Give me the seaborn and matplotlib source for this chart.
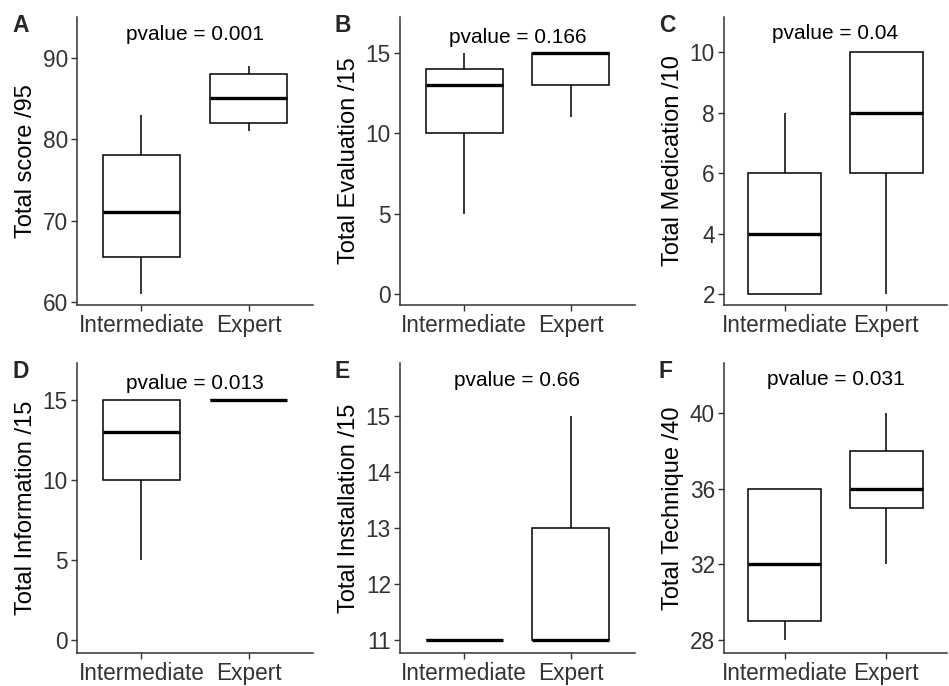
import seaborn as sns
import matplotlib.pyplot as plt
import pandas as pd

sns.set_style("ticks")
plt.rcParams['font.family'] = ['Liberation Sans', 'DejaVu Sans']

groups = ["Intermediate", "Expert"]

# five values per group (min, q1, median, q3, max)
score_int = [61, 65.5, 71, 78, 83]
score_exp = [81, 82, 85, 88, 89]
eval_int = [5, 10, 13, 14, 15]
eval_exp = [11, 13, 15, 15, 15]
med_int = [2, 2, 4, 6, 8]
med_exp = [2, 6, 8, 10, 10]
info_int = [5, 10, 13, 15, 15]
info_exp = [15, 15, 15, 15, 15]
inst_int = [11, 11, 11, 11, 11]
inst_exp = [11, 11, 11, 13, 15]
tech_int = [28, 29, 32, 36, 36]
tech_exp = [32, 35, 36, 38, 40]

panel_letters = ["A", "B", "C", "D", "E", "F"]
ylabels = ["Total score /95", "Total Evaluation /15", "Total Medication /10",
           "Total Information /15", "Total Installation /15", "Total Technique /40"]
pvalues = ["0.001", "0.166", "0.04", "0.013", "0.66", "0.031"]
pvalue_y = [92.9, 15.95, 10.6, 16.0, 15.63, 41.75]
yticks = [[60, 70, 80, 90], [0, 5, 10, 15], [2, 4, 6, 8, 10],
          [0, 5, 10, 15], [11, 12, 13, 14, 15], [28, 32, 36, 40]]
ylims = [(59.63, 95.0), (-0.68, 17.24), (1.64, 11.16),
         (-0.8, 17.3), (10.77, 15.95), (27.31, 42.64)]

series = [(score_int, score_exp), (eval_int, eval_exp), (med_int, med_exp),
          (info_int, info_exp), (inst_int, inst_exp), (tech_int, tech_exp)]

# axes boxes in pixels: left, top, right, bottom
W, H = 949, 686
boxes = [(77, 17, 313, 305), (400, 17, 635, 305), (724, 17, 947, 305),
         (77, 363, 313, 653), (400, 363, 635, 653), (724, 363, 947, 653)]

fig = plt.figure(figsize=(W / 100, H / 100), dpi=100)
tick_col = "#333333"

for i, (vi, ve) in enumerate(series):
    l, t, r, b = boxes[i]
    ax = fig.add_axes([l / W, 1 - b / H, (r - l) / W, (b - t) / H])
    df = pd.DataFrame({"group": [groups[0]] * len(vi) + [groups[1]] * len(ve),
                       "value": list(vi) + list(ve)})
    sns.boxplot(data=df, x="group", y="value", order=groups, ax=ax,
                width=0.72, color="white", linecolor="black", linewidth=1.1,
                showcaps=False, whis=1.5,
                medianprops={"linewidth": 2.4, "color": "black"})
    ax.set_xlim(-0.6, 1.6)
    ax.set_ylim(*ylims[i])
    ax.set_yticks(yticks[i])
    ax.set_xlabel("")
    ax.set_ylabel(ylabels[i], fontsize=17, color="black", labelpad=4)
    ax.tick_params(axis="both", labelsize=16.3, colors=tick_col,
                   length=4, width=1.0, direction="out", pad=2.5)
    for lab in ax.get_xticklabels() + ax.get_yticklabels():
        lab.set_color(tick_col)
    sns.despine(ax=ax)
    for s in ["left", "bottom"]:
        ax.spines[s].set_color("#333333")
        ax.spines[s].set_linewidth(1.1)
    ax.text(0.5, pvalue_y[i], "pvalue = " + pvalues[i], ha="center", va="center",
            fontsize=15, color="black")
    fig.text((l - 65) / W, 1 - 25 / H - (t - 17) / H, panel_letters[i],
             fontsize=16.5, fontweight="bold", ha="left", va="center")

fig.savefig("out.png", dpi=100)
plt.close(fig)
